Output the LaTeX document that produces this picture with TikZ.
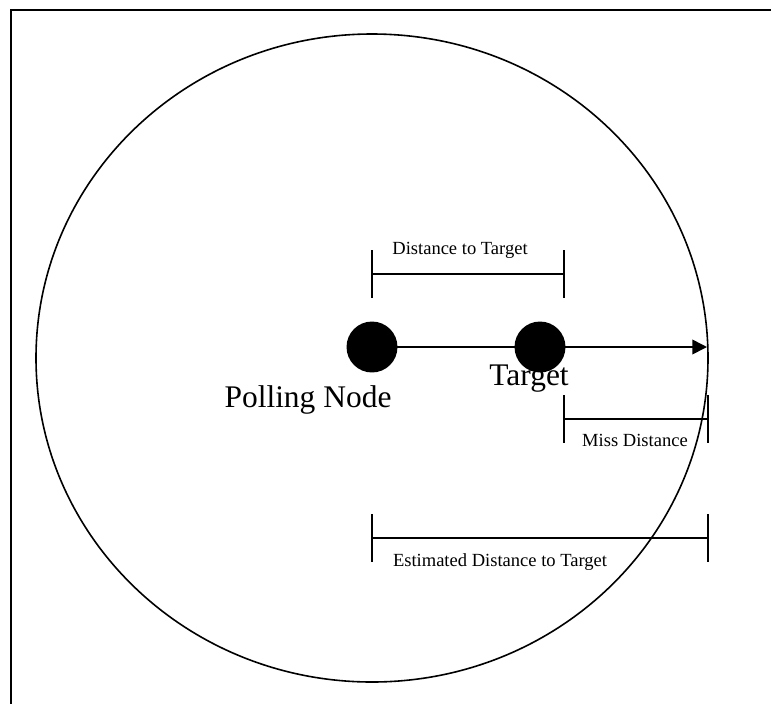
\documentclass[tikz,border=0pt]{standalone}
\usepackage{fontspec}
\setmainfont{Liberation Serif}
\usetikzlibrary{positioning,calc,arrows.meta}

\begin{document}
\begin{tikzpicture}[x=0.75pt,y=-0.75pt,line width=1.2pt,
  dot/.style={draw,circle,fill=black,minimum size=37pt,inner sep=0pt},
  biglabel/.style={anchor=base,font=\fontsize{23.6}{27}\selectfont,inner sep=0pt},
  smalllabel/.style={anchor=base,font=\fontsize{13.9}{16}\selectfont,inner sep=0pt}]
\useasboundingbox (0,0) rectangle (771,704);
% frame, cut at the right and bottom
\draw[line width=1.5pt] (771,9.5) -- (11,9.5) -- (11,704);
% range of the polling node
\draw (372,358) ellipse [x radius=336,y radius=324];
\coordinate (rim) at (707,347);
\node[dot] (poll) at (372,347) {};
\node[dot] (target) at (540,347) {};
\draw[-{Triangle[length=11pt,width=11pt]}] (poll) -- (rim);
\node[biglabel] (polllabel) at (308,407) {Polling Node};
\node[biglabel] (targetlabel) at (529,385) {Target};
% distance to target
\coordinate (dl) at (372,274); \coordinate (dr) at (564,274);
\draw (dl) -- (dr);
\draw ($(dl)+(0,-24)$) -- ($(dl)+(0,24)$); \draw ($(dr)+(0,-24)$) -- ($(dr)+(0,24)$);
\node[smalllabel] (distlabel) at (460,254) {Distance to Target};
% miss distance
\coordinate (ml) at (564,419); \coordinate (mr) at (708,419);
\draw (ml) -- (mr);
\draw ($(ml)+(0,-24)$) -- ($(ml)+(0,24)$); \draw ($(mr)+(0,-24)$) -- ($(mr)+(0,24)$);
\node[smalllabel] (misslabel) at (635,446) {Miss Distance};
% estimated distance
\coordinate (el) at (372,538); \coordinate (er) at (708,538);
\draw (el) -- (er);
\draw ($(el)+(0,-24)$) -- ($(el)+(0,24)$); \draw ($(er)+(0,-24)$) -- ($(er)+(0,24)$);
\node[smalllabel] (estlabel) at (500,566) {Estimated Distance to Target};
\end{tikzpicture}
\end{document}
